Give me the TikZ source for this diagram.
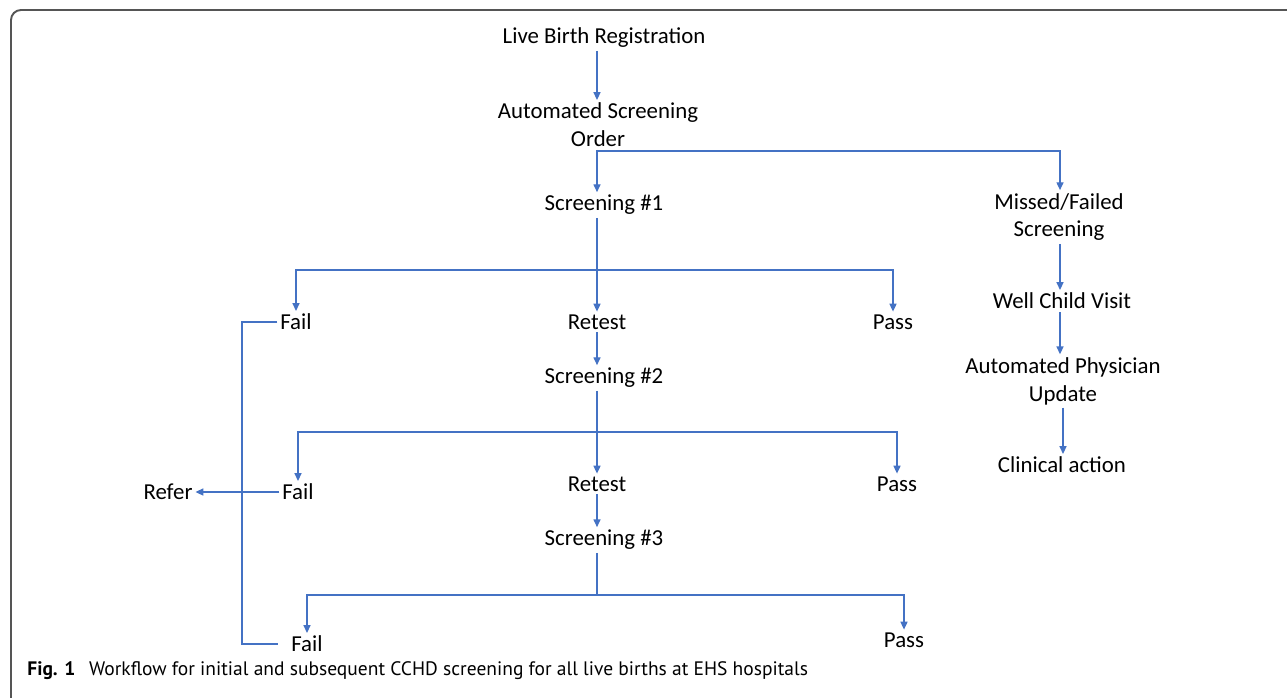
\documentclass[tikz,border=0pt]{standalone}
\usepackage{fontspec}
\setmainfont{Carlito}
\newfontfamily\capfont{PT Sans}
\usetikzlibrary{arrows.meta}

\definecolor{flowblue}{HTML}{4472C4}
\definecolor{framegray}{HTML}{555555}

\tikzset{
  txt/.style={font=\fontsize{13}{15.9}\selectfont, align=center, inner sep=1.5pt},
  link/.style={draw=flowblue, line width=0.8pt},
  flow/.style={link, -{Triangle[length=4.5pt,width=4pt]}},
  frame/.style={draw=framegray, line width=1.1pt, rounded corners=0.2cm},
  caption/.style={font=\capfont\fontsize{11.1}{13}\selectfont, anchor=west, inner sep=0pt}
}

\begin{document}
\begin{tikzpicture}[x=0.02cm, y=-0.02cm]
  \useasboundingbox (0,0) rectangle (1287,697);

  % --- Cornice ---
  \draw[frame] (11,700) -- (11,10) -- (1295,10);

  % --- Linee guida ---
  \coordinate (main) at (597,0);   % colonna centrale
  \coordinate (side) at (242,0);   % ritorno dei Fail
  \coordinate (right) at (1060,0); % colonna destra
  \coordinate (right2) at (1063,0);
  \coordinate (b0) at (597,151);
  \coordinate (b1) at (597,270);
  \coordinate (b2) at (597,432);
  \coordinate (b3) at (597,595);

  % --- Colonna centrale ---
  \node[txt] (lbr)     at (604,38)  {Live Birth Registration};
  \node[txt] (order)   at (598,125) {Automated Screening\\Order};
  \node[txt] (scr1)    at (604,205) {Screening \#1};
  \node[txt] (fail1)   at (296,322) {Fail};
  \node[txt] (retest1) at (597,322) {Retest};
  \node[txt] (pass1)   at (893,322) {Pass};
  \node[txt] (scr2)    at (604,378) {Screening \#2};
  \node[txt] (refer)   at (168,492) {Refer};
  \node[txt] (fail2)   at (298,492) {Fail};
  \node[txt] (retest2) at (597,484) {Retest};
  \node[txt] (pass2)   at (897,484) {Pass};
  \node[txt] (scr3)    at (604,540) {Screening \#3};
  \node[txt] (fail3)   at (307,644) {Fail};
  \node[txt] (pass3)   at (904,640) {Pass};

  % --- Colonna destra ---
  \node[txt] (missed) at (1059,217) {Missed/Failed\\Screening};
  \node[txt] (wcv)    at (1062,301) {Well Child Visit};
  \node[txt] (phys)   at (1063,381) {Automated Physician\\Update};
  \node[txt] (clin)   at (1062,465) {Clinical action};

  % --- Frecce ---
  \draw[flow] (lbr.south -| main) -- (order.north -| main);
  \draw[flow] (order.south -| main) -- (scr1.north -| main);
  \draw[flow] (b0) -| (missed.north -| right);

  % Screening #1
  \draw[flow] (scr1.south -| main) -- (retest1.north);
  \draw[flow] (b1) -| (fail1.north);
  \draw[flow] (b1) -| (pass1.north);
  \draw[flow] (retest1.south) -- (scr2.north -| main);

  % Screening #2
  \draw[flow] (scr2.south -| main) -- (retest2.north);
  \draw[flow] (b2) -| (fail2.north);
  \draw[flow] (b2) -| (pass2.north);
  \draw[flow] (retest2.south) -- (scr3.north -| main);
  \draw[flow] (fail2.west) -- (refer.east);

  % Screening #3
  \draw[link] (scr3.south -| main) -- (b3);
  \draw[flow] (b3) -| (fail3.north);
  \draw[flow] (b3) -| (pass3.north);

  % Ritorno dei Fail
  \draw[link] (fail1.west) -- (fail1.west -| side) |- ([xshift=-0.2cm]fail3.west);

  % Colonna destra
  \draw[flow] (missed.south -| right) -- (wcv.north -| right);
  \draw[flow] (wcv.south -| right) -- (phys.north -| right);
  \draw[flow] (phys.south -| right2) -- (clin.north -| right2);

  % --- Didascalia ---
  \node[caption] (cap) at (27,671) {\textbf{Fig. 1}\hspace{0.7em}Workflow for initial and subsequent CCHD screening for all live births at EHS hospitals};
\end{tikzpicture}
\end{document}
